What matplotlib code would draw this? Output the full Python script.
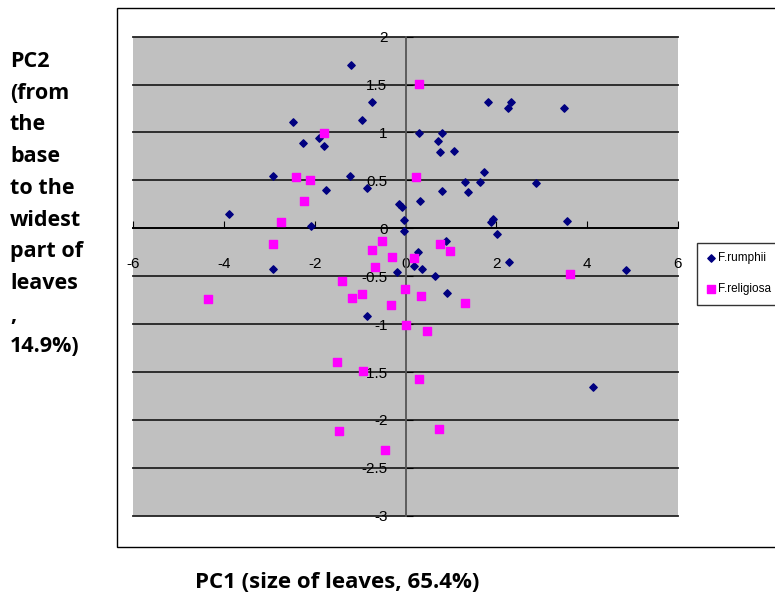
import matplotlib.pyplot as plt
from matplotlib.patches import Rectangle

# PCA scores
rumphii_pc1 = [-1.20, -0.74, -0.95, -2.47, -2.26, -1.91, -1.79, -2.92, -1.23, -1.75,
               -0.84, -0.14, -0.07, -3.89, -0.04, -0.03, -2.08, -2.91, -0.18, 0.18,
               0.28, 0.31, 0.29, 1.81, 2.25, 2.32, 3.50, 0.81, 0.71, 0.77,
               1.07, 1.72, 1.31, 1.64, 2.88, 0.81, 1.38, 1.93, 1.89, 3.55,
               2.01, 0.89, 2.28, 0.37, 0.64, 4.85, -0.85, 0.92, 4.12]
rumphii_pc2 = [1.70, 1.32, 1.13, 1.11, 0.89, 0.94, 0.86, 0.55, 0.55, 0.40,
               0.42, 0.25, 0.22, 0.15, 0.09, -0.03, 0.02, -0.42, -0.46, -0.39,
               -0.25, 0.28, 0.99, 1.32, 1.26, 1.32, 1.26, 0.99, 0.91, 0.80,
               0.81, 0.59, 0.48, 0.48, 0.47, 0.39, 0.38, 0.10, 0.07, 0.08,
               -0.06, -0.13, -0.35, -0.42, -0.50, -0.44, -0.92, -0.68, -1.66]

religiosa_pc1 = [0.30, -1.79, -2.42, -2.10, -2.23, -2.74, -2.92, 0.23, -0.52, -0.74,
                 -0.30, -0.67, 0.19, -1.39, 0.76, 0.99, 3.62, -4.34, -1.17, -0.95,
                 -0.31, -0.02, 0.34, 1.31, 0.01, 0.48, -1.50, -0.93, 0.29, -1.47,
                 0.73, -0.45]
religiosa_pc2 = [1.51, 0.99, 0.54, 0.50, 0.28, 0.07, -0.16, 0.54, -0.13, -0.23,
                 -0.30, -0.40, -0.31, -0.55, -0.16, -0.24, -0.48, -0.74, -0.73, -0.69,
                 -0.80, -0.63, -0.71, -0.78, -1.01, -1.07, -1.40, -1.49, -1.57, -2.12,
                 -2.09, -2.31]

x_ticks = [-6, -4, -2, 0, 2, 4, 6]
y_ticks = [-3, -2.5, -2, -1.5, -1, -0.5, 0, 0.5, 1, 1.5, 2]

plt.rcParams['axes.unicode_minus'] = False
tick_font = ['Liberation Sans Narrow', 'Liberation Sans', 'DejaVu Sans']

fig = plt.figure(figsize=(7.75, 5.99), dpi=100)

# chart area border (runs off the right edge, as in the original)
fig.patches.append(Rectangle((117 / 775, 1 - 547 / 599), 0.9, 539 / 599,
                             transform=fig.transFigure, facecolor='white',
                             edgecolor='black', linewidth=1, zorder=-1))

ax = fig.add_axes([133 / 775, 1 - 515.7 / 599, 545 / 775, 479 / 599])
ax.set_zorder(1)
ax.set_facecolor('#C0C0C0')
ax.set_xlim(-6, 6)
ax.set_ylim(-3, 2)

for y in y_ticks:
    ax.axhline(y, color='#222222', linewidth=1.3, zorder=1, clip_on=False)

ax.scatter(rumphii_pc1, rumphii_pc2, marker='D', s=14, color='#000080',
           zorder=3, label='F.rumphii')
ax.scatter(religiosa_pc1, religiosa_pc2, marker='s', s=40, color='#FF00FF',
           zorder=3, label='F.religiosa')

ax.spines['top'].set_visible(False)
ax.spines['right'].set_visible(False)
ax.spines['left'].set_position(('data', 0))
ax.spines['bottom'].set_position(('data', 0))
ax.spines['left'].set_color('#555555')
ax.spines['left'].set_linewidth(1.3)
ax.spines['bottom'].set_linewidth(1.3)
ax.spines['left'].set_zorder(2)
ax.spines['bottom'].set_zorder(2)

ax.set_xticks(x_ticks)
ax.set_yticks(y_ticks)
ax.set_xticklabels([str(t) for t in x_ticks])
ax.set_yticklabels([('%g' % t) for t in y_ticks])
ax.tick_params(axis='x', direction='in', length=5, pad=21, labelsize=11)
ax.tick_params(axis='y', direction='in', length=5, pad=13, labelsize=11)
for lab in ax.get_xticklabels() + ax.get_yticklabels():
    lab.set_family(tick_font)

leg = fig.legend(loc='upper left', bbox_to_anchor=(697 / 775, 1 - 243 / 599),
                 frameon=True, fancybox=False, edgecolor='black',
                 prop={'family': tick_font, 'size': 8.5}, handletextpad=0.2,
                 handlelength=0.8, borderpad=0.8, labelspacing=1.6,
                 borderaxespad=0)
leg.get_frame().set_linewidth(1)

fig.text(10 / 775, 1 - 51 / 599,
         'PC2\n(from\nthe\nbase\nto the\nwidest\npart of\nleaves\n,\n14.9%)',
         ha='left', va='top', fontsize=15.5, fontweight='bold', family='Open Sans',
         linespacing=1.67)
fig.text(337 / 775, 1 - 583 / 599, 'PC1 (size of leaves, 65.4%)',
         ha='center', va='center', fontsize=16, fontweight='bold', family='Open Sans')

fig.savefig('out.png', dpi=100)
